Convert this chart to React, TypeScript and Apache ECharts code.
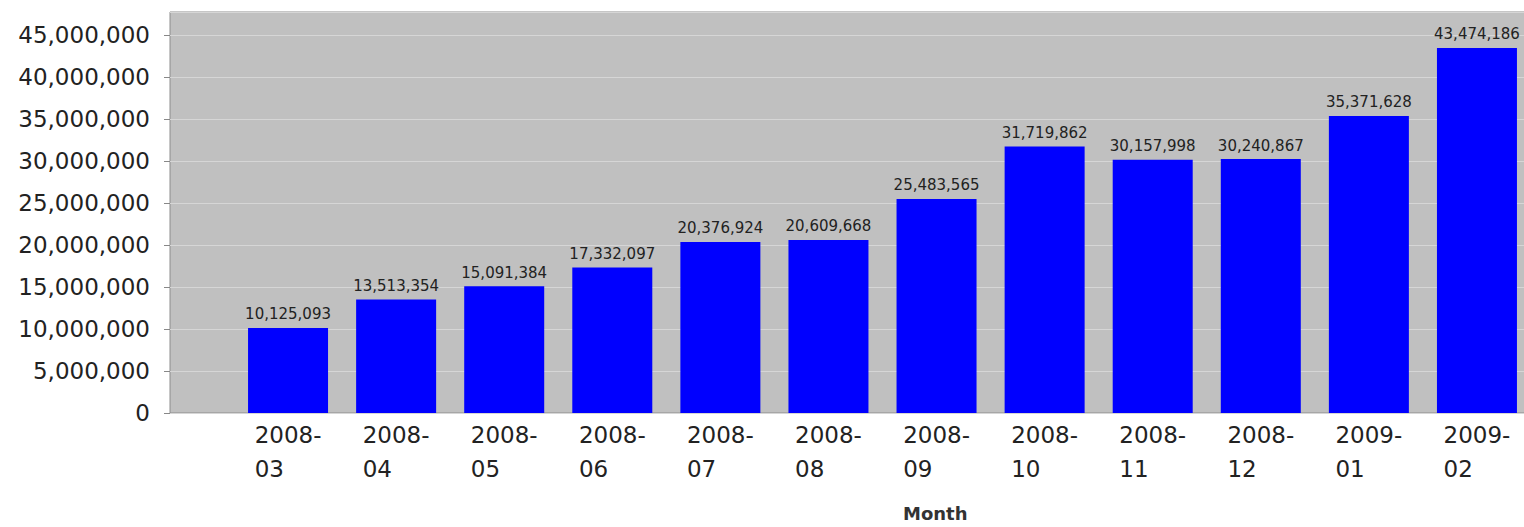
import React, { useEffect, useRef } from "react";
import * as echarts from "echarts";

const categories = [
  "2008-03", "2008-04", "2008-05", "2008-06", "2008-07", "2008-08",
  "2008-09", "2008-10", "2008-11", "2008-12", "2009-01", "2009-02",
];
const hits = [
  10125093, 13513354, 15091384, 17332097, 20376924, 20609668,
  25483565, 31719862, 30157998, 30240867, 35371628, 43474186,
];
const xAxisTitle = "Month";
const yMin = 0;
const yMax = 47750000;
const yInterval = 5000000;

const fmt = (v: number) => Math.round(v).toLocaleString("en-US");
const FONT = "DejaVu Sans";

export default function App() {
  const ref = useRef<HTMLDivElement>(null);
  useEffect(() => {
    if (!ref.current) return;
    const chart = echarts.init(ref.current, undefined, { renderer: "svg" });
    chart.setOption({
      animation: false,
      backgroundColor: "#ffffff",
      grid: [
        {
          left: 170, right: 0, top: 12, bottom: 114,
          show: true, backgroundColor: "#c0c0c0",
          borderColor: "#8c8c8c", borderWidth: 1, containLabel: false,
        },
        { left: 234, right: 9, top: 12, bottom: 114, containLabel: false },
      ],
      xAxis: [
        { gridIndex: 0, type: "value", show: false, min: 0, max: 1 },
        {
          gridIndex: 1, type: "category", data: categories,
          axisLine: { show: false }, axisTick: { show: false },
          axisLabel: {
            interval: 0, margin: 5,
            fontFamily: FONT, fontSize: 23, color: "#222", lineHeight: 34,
            formatter: (v: string) => {
              const [a, b] = v.split("-");
              return `{t|${a}-}\n{t|${b}}`;
            },
            rich: { t: { fontFamily: FONT, fontSize: 23, color: "#222", lineHeight: 34, align: "left" } },
          },
        },
      ],
      yAxis: [
        {
          gridIndex: 0, type: "value", min: yMin, max: yMax, interval: yInterval,
          axisLine: { show: false },
          axisTick: { show: true, length: 6, lineStyle: { color: "#888" } },
          axisLabel: {
            margin: 20, fontFamily: FONT, fontSize: 23, color: "#222",
            showMaxLabel: false, formatter: (v: number) => fmt(v),
          },
          splitLine: { show: true, lineStyle: { color: "#d6d6d6", width: 1 } },
        },
        { gridIndex: 1, type: "value", min: yMin, max: yMax, show: false, splitLine: { show: false } },
      ],
      series: [
        {
          type: "bar", xAxisIndex: 1, yAxisIndex: 1, data: hits, barWidth: 80,
          itemStyle: { color: "#0000ff" },
          label: {
            show: true, position: "top", distance: 6,
            fontFamily: FONT, fontSize: 15, color: "#222",
            formatter: (p: any) => fmt(p.value),
          },
        },
      ],
      graphic: [
        {
          type: "text", left: 903, top: 504,
          style: { text: xAxisTitle, fontFamily: FONT, fontSize: 18, fontWeight: "bold", fill: "#333" },
        },
      ],
    });
    return () => chart.dispose();
  }, []);
  return (
    <div
      ref={ref}
      style={{ position: "fixed", left: 0, top: 0, width: 1540, height: 527, background: "#fff" }}
    />
  );
}
